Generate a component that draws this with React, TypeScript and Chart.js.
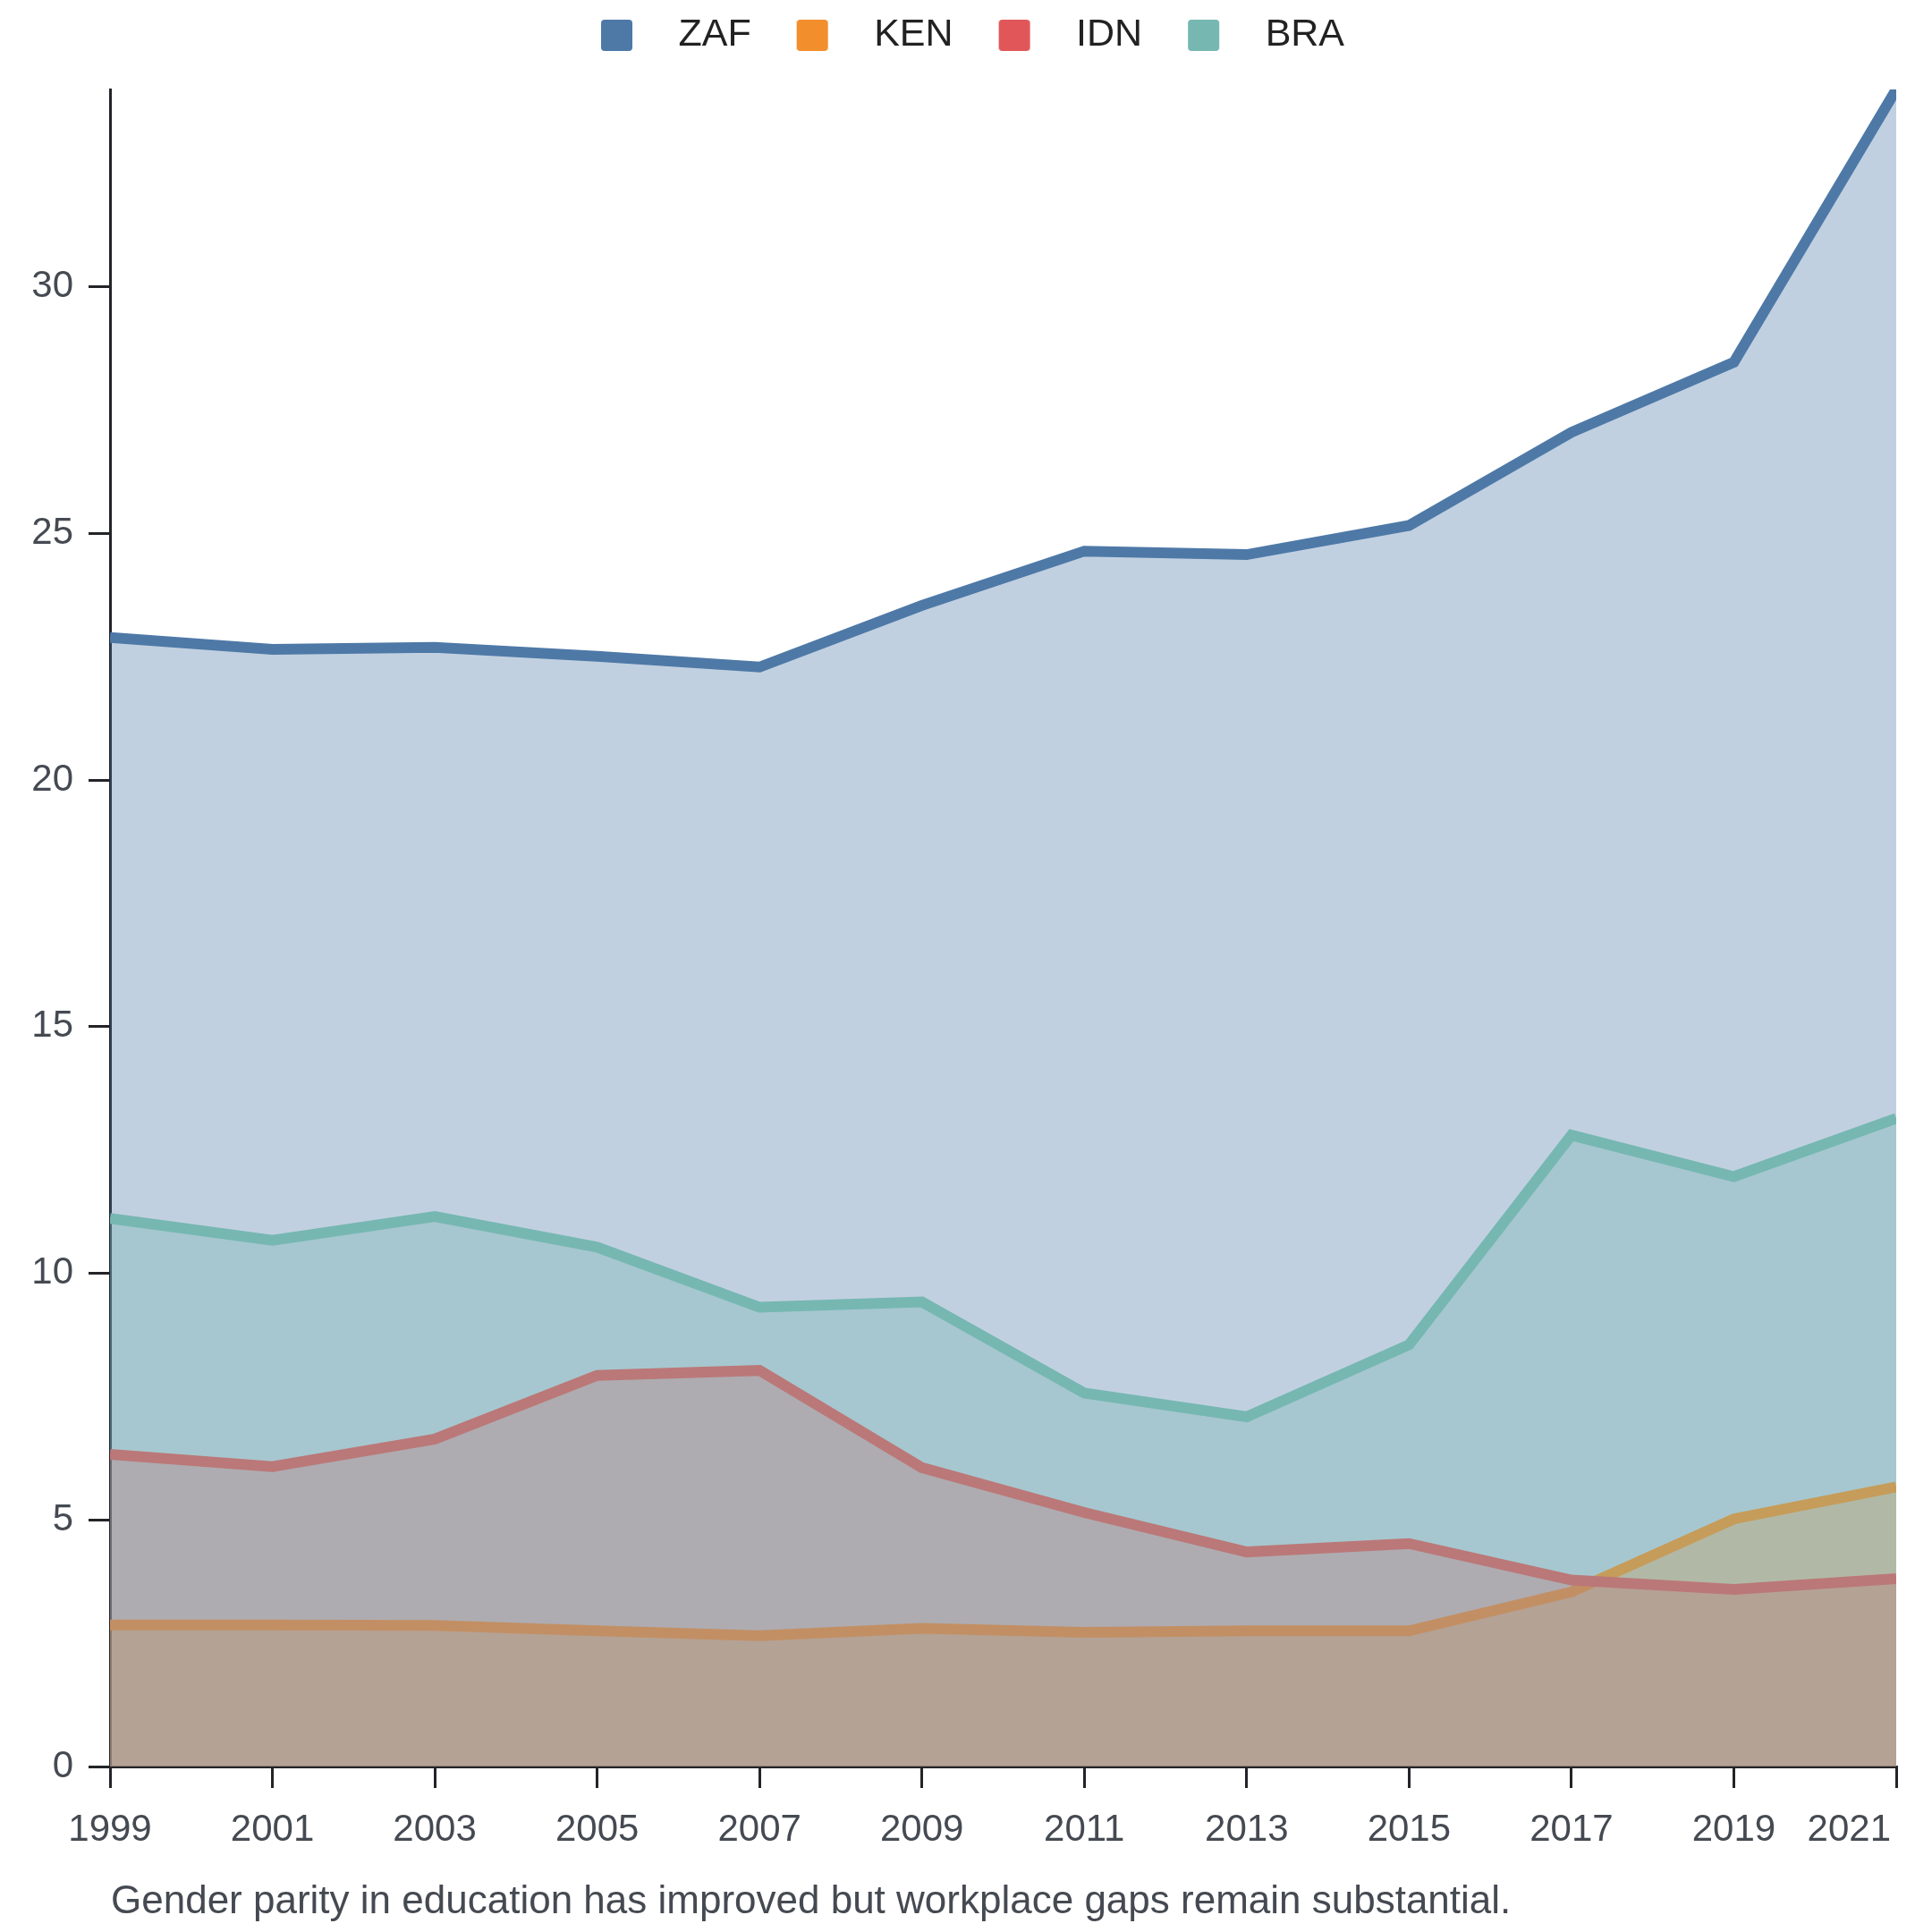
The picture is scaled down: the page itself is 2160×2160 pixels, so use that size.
import React, { useEffect, useRef } from 'react';
import Chart from 'chart.js/auto';

const years = ['1999', '2001', '2003', '2005', '2007', '2009', '2011', '2013', '2015', '2017', '2019', '2021'];
const countries = ['ZAF', 'KEN', 'IDN', 'BRA'];

const zaf = [22.89, 22.65, 22.69, 22.51, 22.29, 23.54, 24.64, 24.57, 25.16, 27.05, 28.47, 34.0];
const ken = [2.87, 2.87, 2.86, 2.75, 2.65, 2.8, 2.72, 2.75, 2.75, 3.54, 5.02, 5.67];
const idn = [6.33, 6.08, 6.64, 7.93, 8.03, 6.06, 5.15, 4.35, 4.52, 3.78, 3.59, 3.81];
const bra = [11.11, 10.67, 11.15, 10.53, 9.31, 9.42, 7.57, 7.09, 8.55, 12.8, 11.96, 13.14];

const lineColors = ['#4e79a7', '#f28e2b', '#e15759', '#76b7b2'];
const fillColors = ['rgba(78,121,167,0.35)', 'rgba(242,142,43,0.35)', 'rgba(225,87,89,0.35)', 'rgba(118,183,178,0.35)'];

const caption = 'Gender parity in education has improved but workplace gaps remain substantial.';

const FONT = '"Liberation Sans", Arial, Helvetica, sans-serif';
const AXIS = '#232428';
const TEXT = '#454a52';

// legend marker: transparent space either side of a small rounded square
const makeMarker = (color: string) => {
  const c = document.createElement('canvas');
  c.width = 100;
  c.height = 35;
  const ctx = c.getContext('2d')!;
  ctx.fillStyle = color;
  ctx.beginPath();
  ctx.roundRect(35, 0, 35, 35, 4);
  ctx.fill();
  return c;
};

const captionPlugin = {
  id: 'caption',
  afterDraw(chart: any) {
    const { ctx, chartArea } = chart;
    ctx.save();
    ctx.font = `44px ${FONT}`;
    ctx.fillStyle = TEXT;
    ctx.textAlign = 'left';
    ctx.textBaseline = 'alphabetic';
    ctx.fillText(caption, chartArea.left + 1, chart.height - 21);
    ctx.restore();
  }
};

// keep the last x label inside the canvas
const lastLabelPlugin = {
  id: 'lastLabel',
  beforeDraw(chart: any) {
    const scale = chart.scales.x;
    const items = scale.getLabelItems();
    const i = items.length - 1;
    if (i < 0) return;
    const last = items[i];
    last.options.textAlign = 'right';
    last.options.translation = [scale.getPixelForTick(i) - 6, last.options.translation[1]];
  }
};

const App: React.FC = () => {
  const canvasRef = useRef<HTMLCanvasElement>(null);

  useEffect(() => {
    document.body.style.margin = '0';
    if (!canvasRef.current) return;

    const series = [zaf, ken, idn, bra];
    const markers = lineColors.map(makeMarker);

    const chart = new Chart(canvasRef.current, {
      type: 'line',
      data: {
        labels: years,
        datasets: countries.map((name, i) => ({
          label: name,
          data: series[i],
          borderColor: lineColors[i],
          backgroundColor: fillColors[i],
          fill: 'origin',
          borderWidth: 12,
          borderJoinStyle: 'miter',
          pointRadius: 0,
          pointHoverRadius: 0,
          tension: 0,
          clip: 0,
          order: countries.length - i
        }))
      },
      options: {
        animation: false,
        responsive: true,
        maintainAspectRatio: false,
        layout: { padding: { top: 2, left: 0, right: 20, bottom: 85 } },
        plugins: {
          tooltip: { enabled: false },
          // empty spacer between legend and plot
          subtitle: {
            display: true,
            text: '',
            position: 'top',
            weight: 500,
            padding: 0,
            font: { size: 29, lineHeight: 1 }
          },
          legend: {
            position: 'top',
            labels: {
              usePointStyle: true,
              pointStyleWidth: 100,
              boxHeight: 35,
              padding: 16,
              color: '#222',
              font: { family: FONT, size: 43 },
              generateLabels: (c: any) =>
                c.data.datasets.map((ds: any, i: number) => ({
                  text: ds.label,
                  pointStyle: markers[i],
                  fillStyle: lineColors[i],
                  strokeStyle: lineColors[i],
                  lineWidth: 0,
                  fontColor: '#222',
                  hidden: false,
                  datasetIndex: i
                }))
            }
          }
        },
        scales: {
          x: {
            type: 'category',
            offset: false,
            border: { display: true, color: AXIS, width: 3 },
            grid: { offset: false, drawOnChartArea: false, drawTicks: true, tickLength: 24, color: AXIS, lineWidth: 3 },
            ticks: { autoSkip: false, maxRotation: 0, padding: 22, color: TEXT, font: { family: FONT, size: 42 } },
            afterFit: (s: any) => {
              s.height = 100;
              s.paddingLeft = 0;
              s.paddingRight = 40;
            }
          },
          y: {
            min: 0,
            max: 34,
            border: { display: true, color: AXIS, width: 3 },
            grid: { drawOnChartArea: false, drawTicks: true, tickLength: 24, color: AXIS, lineWidth: 3 },
            ticks: { stepSize: 5, includeBounds: false, padding: 17, color: TEXT, font: { family: FONT, size: 42 } },
            afterFit: (s: any) => {
              s.width = 123;
              s.paddingTop = 0;
              s.paddingBottom = 0;
            }
          }
        }
      },
      plugins: [captionPlugin, lastLabelPlugin]
    } as any);

    return () => {
      chart.destroy();
    };
  }, []);

  return (
    <div style={{ position: 'relative', width: '2160px', height: '2160px' }}>
      <canvas ref={canvasRef}></canvas>
    </div>
  );
};

export default App;
